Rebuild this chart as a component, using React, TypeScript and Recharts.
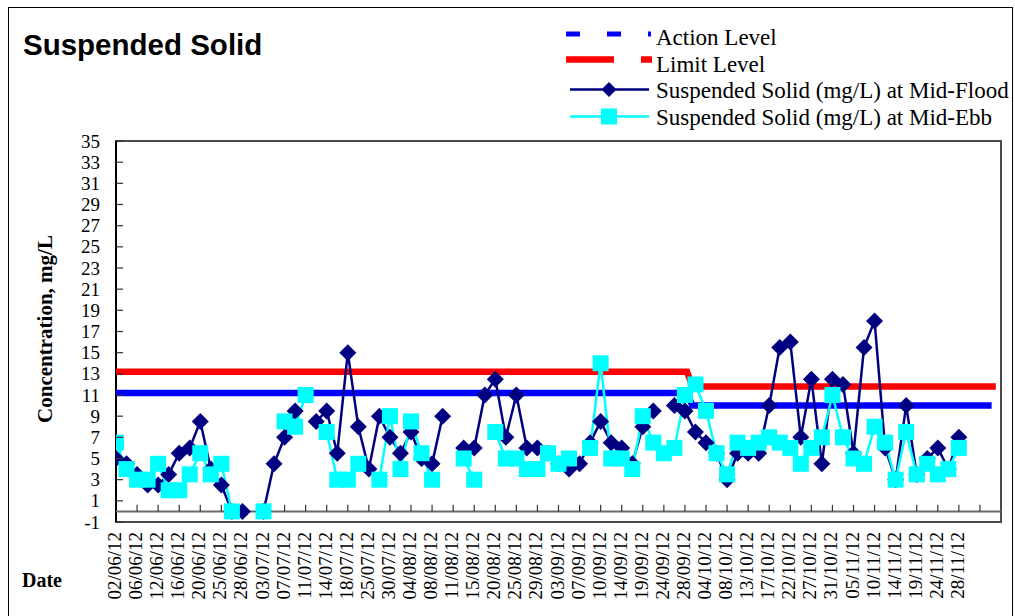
import React from 'react';
import { LineChart, Line, XAxis, YAxis, ReferenceLine, ReferenceArea } from 'recharts';

// ---- data ----
const dateLabels = [
  '02/06/12', '06/06/12', '12/06/12', '16/06/12', '20/06/12', '25/06/12', '28/06/12',
  '03/07/12', '07/07/12', '11/07/12', '14/07/12', '18/07/12', '25/07/12', '30/07/12',
  '04/08/12', '08/08/12', '11/08/12', '15/08/12', '20/08/12', '25/08/12', '29/08/12',
  '03/09/12', '07/09/12', '10/09/12', '14/09/12', '19/09/12', '24/09/12', '28/09/12',
  '04/10/12', '08/10/12', '13/10/12', '17/10/12', '22/10/12', '27/10/12', '31/10/12',
  '05/11/12', '10/11/12', '14/11/12', '19/11/12', '24/11/12', '28/11/12',
];

const floodValues: (number | null)[] = [
  5, 4.5, 3.5, 2.5, 2.5, 3.5, 5.5, 6, 8.5, 4,
  2.5, 0, 0, null, 0, 4.5, 7, 9.5, null, 8.5,
  9.5, 5.5, 15, 8, 4, 9, 7, 5.5, 7.5, 5,
  4.5, 9, null, 6, 6, 11, 12.5, 7, 11, 6,
  6, 5.5, 4.5, 4, 4.5, 6.5, 8.5, 6.5, 6, 4.5,
  8, 9.5, null, 10, 9.5, 7.5, 6.5, 5.5, 3, 5.5,
  5.5, 5.5, 10, 15.5, 16, 7, 12.5, 4.5, 12.5, 12,
  5.5, 15.5, 18, 6, 3, 10, 3.5, 5, 6, 4,
  7,
];

const ebbValues: (number | null)[] = [
  6.5, 4, 3, 3, 4.5, 2, 2, 3.5, 5.5, 3.5,
  4.5, 0, null, null, 0, null, 8.5, 8, 11, null,
  7.5, 3, 3, 4.5, null, 3, 9, 4, 8.5, 5.5,
  3, null, null, 5, 3, null, 7.5, 5, 5, 4,
  4, 5.5, 4.5, 5, null, 6, 14, 5, 5, 4,
  9, 6.5, 5.5, 6, 11, 12, 9.5, 5.5, 3.5, 6.5,
  6, 6.5, 7, 6.5, 6, 4.5, 6, 7, 11, 7,
  5, 4.5, 8, 6.5, 3, 7.5, 3.5, 4.5, 3.5, 4,
  6,
];

const actionX = [0, 54.2, 54.7, 82.8];
const actionLevel = [11.2, 11.2, 10, 10];
const limitX = [0, 54.2, 54.7, 83.2];
const limitLevel = [13.2, 13.2, 11.8, 11.8];

const yTicks = [-1, 1, 3, 5, 7, 9, 11, 13, 15, 17, 19, 21, 23, 25, 27, 29, 31, 33, 35];
const xDomainMax = 84;

// ---- derived tables ----
const rows = floodValues.map((f, i) => ({ idx: i, flood: f, ebb: ebbValues[i] }));
const actionRows = actionX.map((x, k) => ({ idx: x, level: actionLevel[k] }));
const limitRows = limitX.map((x, k) => ({ idx: x, level: limitLevel[k] }));
const xTicks = dateLabels.map((_, k) => k * 2);
const xTickMarks: number[] = [];
for (let t = 2; t < xDomainMax; t += 2) xTickMarks.push(t);

const SERIF = '"Liberation Serif", "Times New Roman", serif';
const SANS = '"Liberation Sans", Arial, sans-serif';

const NAVY = '#000080';
const CYAN = '#00FFFF';
const BLUE = '#0000FF';
const RED = '#FF0000';

const Diamond = (props: any) => {
  const { cx, cy, value, index } = props;
  if (cx == null || cy == null || value == null) return <g key={`d${index}`} />;
  const r = 8.5;
  return (
    <path key={`d${index}`} d={`M${cx},${cy - r}L${cx + r},${cy}L${cx},${cy + r}L${cx - r},${cy}Z`} fill={NAVY} />
  );
};

const Square = (props: any) => {
  const { cx, cy, value, index } = props;
  if (cx == null || cy == null || value == null) return <g key={`s${index}`} />;
  const h = 8;
  return <rect key={`s${index}`} x={cx - h} y={cy - h} width={2 * h} height={2 * h} fill={CYAN} />;
};

const XTick = (props: any) => {
  const { x, y, payload } = props;
  const label = dateLabels[Math.round(payload.value / 2)] ?? '';
  return (
    <text
      transform={`translate(${x + 5},${y}) rotate(-90)`}
      textAnchor="end"
      fontFamily={SERIF}
      fontSize={19}
      fill="#000"
    >
      {label}
    </text>
  );
};

const Y_MARGIN = 16;
const YTick = (props: any) => {
  const { x, y, payload } = props;
  return (
    <g>
      <line x1={x + Y_MARGIN} x2={x + Y_MARGIN + 7} y1={y} y2={y} stroke="#333" strokeWidth={1.2} />
      <text x={x} y={y} dy="0.35em" textAnchor="end" fontFamily={SERIF} fontSize={19} fill="#000">
        {payload.value}
      </text>
    </g>
  );
};

const legendItems = [
  { name: 'Action Level', kind: 'action' },
  { name: 'Limit Level', kind: 'limit' },
  { name: 'Suspended Solid (mg/L) at Mid-Flood', kind: 'flood' },
  { name: 'Suspended Solid (mg/L) at Mid-Ebb', kind: 'ebb' },
];

const LegendSymbol = ({ kind, y }: { kind: string; y: number }) => {
  if (kind === 'action')
    return <line x1={566} x2={651} y1={y} y2={y} stroke={BLUE} strokeWidth={5} strokeDasharray="14 27" />;
  if (kind === 'limit')
    return <line x1={566} x2={652} y1={y} y2={y} stroke={RED} strokeWidth={6.5} strokeDasharray="48 27" />;
  if (kind === 'flood')
    return (
      <g>
        <line x1={570} x2={649} y1={y} y2={y} stroke={NAVY} strokeWidth={2.5} />
        <path d={`M609,${y - 7.5}L616.5,${y}L609,${y + 7.5}L601.5,${y}Z`} fill={NAVY} />
      </g>
    );
  return (
    <g>
      <line x1={570} x2={649} y1={y} y2={y} stroke={CYAN} strokeWidth={2.5} />
      <rect x={601} y={y - 8} width={16} height={16} fill={CYAN} />
    </g>
  );
};

export default function App() {
  const legendSymbolY = [34, 59.5, 89.5, 116.5];
  const legendTextY = [45, 71.5, 98, 124.5];
  return (
    <div style={{ position: 'absolute', left: 0, top: 0, width: 1015, height: 616, overflow: 'hidden', background: '#fff' }}>
      <div
        style={{
          position: 'absolute',
          left: 8,
          top: 7,
          width: 1005,
          height: 640,
          border: '1px solid #000',
          boxSizing: 'border-box',
        }}
      />
      <div style={{ position: 'absolute', left: 0, top: 0 }}>
        <LineChart
          width={1015}
          height={616}
          data={rows}
          margin={{ top: 141, right: 14, bottom: 14, left: 76 }}
        >
          <XAxis
            type="number"
            dataKey="idx"
            domain={[0, xDomainMax]}
            ticks={xTicks}
            interval={0}
            tickSize={0}
            tickMargin={10}
            axisLine={false}
            tickLine={false}
            tick={<XTick />}
            height={80}
            allowDataOverflow
          />
          <YAxis
            type="number"
            domain={[-1, 35]}
            ticks={yTicks}
            interval={0}
            tickSize={0}
            tickMargin={Y_MARGIN}
            axisLine={false}
            tickLine={false}
            tick={<YTick />}
            width={40}
            allowDataOverflow
          />
          <ReferenceArea x1={0} x2={xDomainMax} y1={-1} y2={35} fill="#fff" fillOpacity={0} stroke="#4a4a4a" strokeWidth={2} />
          <ReferenceLine x={0} stroke="#000" strokeWidth={2} />
          <ReferenceLine y={0} stroke="#6a6a6a" strokeWidth={2} />
          {xTickMarks.map((t) => (
            <ReferenceLine
              key={`tm${t}`}
              segment={[{ x: t, y: 0 }, { x: t, y: 0.62 }]}
              stroke="#333"
              strokeWidth={1.2}
            />
          ))}
          <Line
            data={actionRows}
            dataKey="level"
            stroke={BLUE}
            strokeWidth={6.5}
            strokeLinecap="square"
            dot={false}
            activeDot={false}
            isAnimationActive={false}
            name="Action Level"
          />
          <Line
            data={limitRows}
            dataKey="level"
            stroke={RED}
            strokeWidth={6.5}
            strokeLinecap="square"
            dot={false}
            activeDot={false}
            isAnimationActive={false}
            name="Limit Level"
          />
          <Line
            dataKey="flood"
            stroke={NAVY}
            strokeWidth={2.5}
            dot={<Diamond />}
            activeDot={false}
            connectNulls={false}
            isAnimationActive={false}
            name="Suspended Solid (mg/L) at Mid-Flood"
          />
          <Line
            dataKey="ebb"
            stroke={CYAN}
            strokeWidth={2.5}
            dot={<Square />}
            activeDot={false}
            connectNulls={false}
            isAnimationActive={false}
            name="Suspended Solid (mg/L) at Mid-Ebb"
          />
        </LineChart>
      </div>
      <svg
        width={1015}
        height={616}
        style={{ position: 'absolute', left: 0, top: 0, pointerEvents: 'none' }}
      >
        <text x={23} y={55} fontFamily={SANS} fontWeight="bold" fontSize={29.5} fill="#000">
          Suspended Solid
        </text>
        <text
          transform="translate(52,329) rotate(-90)"
          textAnchor="middle"
          fontFamily={SERIF}
          fontWeight="bold"
          fontSize={21}
          fill="#000"
        >
          Concentration, mg/L
        </text>
        <text x={22} y={587} fontFamily={SERIF} fontWeight="bold" fontSize={20} fill="#000">
          Date
        </text>
        {legendItems.map((item, k) => (
          <g key={item.kind}>
            <LegendSymbol kind={item.kind} y={legendSymbolY[k]} />
            <text x={656} y={legendTextY[k]} fontFamily={SERIF} fontSize={23} fill="#000">
              {item.name}
            </text>
          </g>
        ))}
      </svg>
    </div>
  );
}
